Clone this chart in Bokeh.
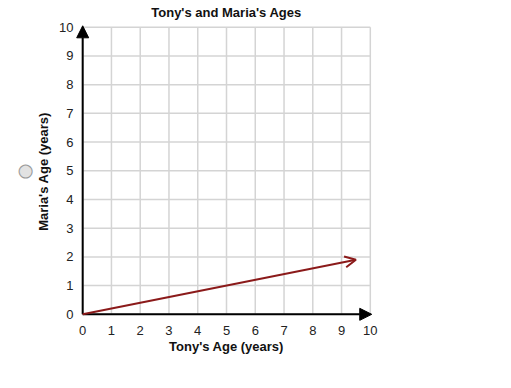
from bokeh.plotting import figure
from bokeh.models import Arrow, NormalHead, OpenHead, ColumnDataSource, Range1d, FixedTicker, Title
from bokeh.embed import file_html
from bokeh.resources import INLINE

# Data
tony_age = [0, 9.5]
maria_age = [0, 1.9]
ticks = list(range(0, 11))
title_text = "Tony's and Maria's Ages"
x_label = "Tony's Age (years)"
y_label = "Maria's Age (years)"

p = figure(width=511, height=388, output_backend="svg", toolbar_location=None,
           x_range=Range1d(-0.25, 10.25), y_range=Range1d(-0.25, 10.2), title=title_text)
p.min_border_left = 75
p.min_border_right = 134
p.min_border_top = 21
p.min_border_bottom = 67

p.title.align = "center"
p.title.text_font = "Liberation Sans"
p.title.text_font_size = "13px"
p.title.text_font_style = "bold"
p.title.text_color = "#111111"
p.title.standoff = 0
p.title.vertical_align = "top"

for ax in (p.xaxis[0], p.yaxis[0]):
    ax.ticker = FixedTicker(ticks=ticks)
    ax.axis_line_color = None
    ax.major_tick_line_color = None
    ax.minor_tick_line_color = None
    ax.major_tick_out = 0
    ax.major_tick_in = 0
    ax.major_label_text_font = "Liberation Sans"
    ax.major_label_text_font_size = "13px"
    ax.major_label_text_color = "#222222"
    ax.axis_label_text_font = "Liberation Sans"
    ax.axis_label_text_font_size = "13px"
    ax.axis_label_text_font_style = "bold"
    ax.axis_label_text_color = "#111111"

p.xaxis.axis_label = x_label
p.yaxis.axis_label = y_label
p.xaxis.major_label_standoff = 4
p.yaxis.major_label_standoff = 2
p.xaxis.axis_label_standoff = 1
p.yaxis.axis_label_standoff = 5

p.grid.grid_line_color = None
p.outline_line_color = None

# grid lines (bounded to the 0..10 square)
grid_col = "#d4d4d4"
p.segment(x0=ticks, y0=[0] * len(ticks), x1=ticks, y1=[10] * len(ticks),
          line_color=grid_col, line_width=1.5)
p.segment(x0=[0] * len(ticks), y0=ticks, x1=[10] * len(ticks), y1=ticks,
          line_color=grid_col, line_width=1.5)

# axis lines with arrowheads
p.add_layout(Arrow(end=NormalHead(size=12, fill_color="black", line_color="black"),
                   x_start=0, y_start=0, x_end=0, y_end=10.05, line_color="black", line_width=2))
p.add_layout(Arrow(end=NormalHead(size=12, fill_color="black", line_color="black"),
                   x_start=0, y_start=0, x_end=10.05, y_end=0, line_color="black", line_width=2))

# data line with arrow
src = ColumnDataSource(dict(x0=tony_age[:-1], y0=maria_age[:-1], x1=tony_age[1:], y1=maria_age[1:]))
p.add_layout(Arrow(end=OpenHead(size=11, line_color="#8b1a1a", line_width=2),
                   x_start="x0", y_start="y0", x_end="x1", y_end="y1", source=src,
                   line_color="#8b1a1a", line_width=2))

# radio button, placed in the left side panel
radio = Title(text="\u25cf", align="center", text_font="DejaVu Sans", text_font_size="17px",
              text_color="#e2e2e2", text_outline_color="#9a9a9a", text_font_style="normal",
              standoff=0)
p.add_layout(radio, "left")

open("out.html", "w").write(file_html(p, INLINE))
